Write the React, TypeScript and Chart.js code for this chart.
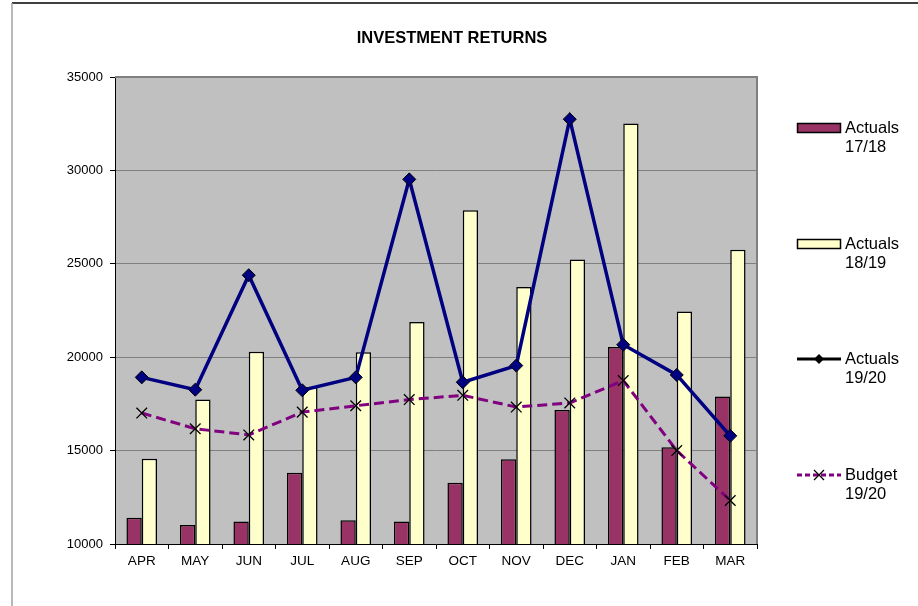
import React, { useEffect, useRef } from "react";
import { Chart, registerables } from "chart.js";

Chart.register(...registerables);

const months = ["APR", "MAY", "JUN", "JUL", "AUG", "SEP", "OCT", "NOV", "DEC", "JAN", "FEB", "MAR"];
const actuals1718 = [11400, 11020, 11200, 13820, 11270, 11200, 13280, 14540, 17170, 20540, 15180, 17890];
const actuals1819 = [14570, 17730, 20290, 18410, 20270, 21880, 27870, 23760, 25230, 32510, 22440, 25750];
const actuals1920 = [18920, 18260, 24390, 18230, 18920, 29520, 18660, 19550, 32740, 20670, 19050, 15790];
const budget1920 = [17010, 16170, 15840, 17060, 17400, 17730, 17960, 17330, 17550, 18750, 15000, 12330];
const yTicks = [10000, 15000, 20000, 25000, 30000, 35000];
const titleText = "INVESTMENT RETURNS";
const legendLabels = [
  ["Actuals", "17/18"],
  ["Actuals", "18/19"],
  ["Actuals", "19/20"],
  ["Budget", "19/20"],
];

const FONT = '"Liberation Sans", Arial, sans-serif';
const MAROON = "#993366";
const CREAM = "#FFFFCC";
const NAVY = "#000080";
const PURPLE = "#800080";

const decorPlugin = {
  id: "decor",
  beforeDraw(chart: any) {
    const { ctx, chartArea: a } = chart;
    ctx.save();
    ctx.fillStyle = "#ffffff";
    ctx.fillRect(0, 0, chart.width, chart.height);
    // frame
    ctx.strokeStyle = "#000000";
    ctx.lineWidth = 1.5;
    ctx.beginPath();
    ctx.moveTo(12, 3);
    ctx.lineTo(chart.width, 3);
    ctx.stroke();
    ctx.strokeStyle = "#a0a0a0";
    ctx.lineWidth = 1.5;
    ctx.beginPath();
    ctx.moveTo(12, 3);
    ctx.lineTo(12, chart.height);
    ctx.stroke();
    // plot background
    ctx.fillStyle = "#C0C0C0";
    ctx.fillRect(a.left, a.top, a.right - a.left, a.bottom - a.top);
    ctx.restore();
  },
  beforeDatasetsDraw(chart: any) {
    const { ctx, chartArea: a } = chart;
    ctx.save();
    ctx.strokeStyle = "#808080";
    ctx.lineWidth = 2;
    ctx.beginPath();
    ctx.moveTo(a.left, a.top);
    ctx.lineTo(a.right, a.top);
    ctx.lineTo(a.right, a.bottom);
    ctx.stroke();
    ctx.restore();
  },
  afterDraw(chart: any) {
    const { ctx } = chart;
    ctx.save();
    // title
    ctx.fillStyle = "#000";
    ctx.font = `bold 16.5px ${FONT}`;
    ctx.textAlign = "center";
    ctx.textBaseline = "middle";
    ctx.fillText(titleText, 452, 38);

    // legend
    const ys = [128, 244, 359, 475];
    const sx0 = 797;
    const sx1 = 841;
    const sc = (sx0 + sx1) / 2;
    ctx.strokeStyle = "#000";
    ctx.lineWidth = 1.5;
    // item 1
    ctx.fillStyle = MAROON;
    ctx.fillRect(sx0, ys[0] - 4.5, sx1 - sx0, 9);
    ctx.strokeRect(sx0 + 0.5, ys[0] - 4.5, sx1 - sx0 - 1, 9);
    // item 2
    ctx.fillStyle = CREAM;
    ctx.fillRect(sx0, ys[1] - 4.5, sx1 - sx0, 9);
    ctx.strokeRect(sx0 + 0.5, ys[1] - 4.5, sx1 - sx0 - 1, 9);
    // item 3
    ctx.lineWidth = 3;
    ctx.beginPath();
    ctx.moveTo(sx0, ys[2]);
    ctx.lineTo(sx1, ys[2]);
    ctx.stroke();
    ctx.fillStyle = "#000";
    ctx.beginPath();
    ctx.moveTo(sc, ys[2] - 5);
    ctx.lineTo(sc + 5, ys[2]);
    ctx.lineTo(sc, ys[2] + 5);
    ctx.lineTo(sc - 5, ys[2]);
    ctx.closePath();
    ctx.fill();
    // item 4
    ctx.strokeStyle = PURPLE;
    ctx.lineWidth = 3;
    ctx.setLineDash([5, 3]);
    ctx.beginPath();
    ctx.moveTo(sx0, ys[3]);
    ctx.lineTo(sx1, ys[3]);
    ctx.stroke();
    ctx.setLineDash([]);
    ctx.strokeStyle = "#000";
    ctx.lineWidth = 1.2;
    ctx.beginPath();
    ctx.moveTo(sc - 5, ys[3] - 5);
    ctx.lineTo(sc + 5, ys[3] + 5);
    ctx.moveTo(sc + 5, ys[3] - 5);
    ctx.lineTo(sc - 5, ys[3] + 5);
    ctx.stroke();

    ctx.fillStyle = "#000";
    ctx.font = `16.5px ${FONT}`;
    ctx.textAlign = "left";
    ctx.textBaseline = "middle";
    legendLabels.forEach((lines, i) => {
      ctx.fillText(lines[0], 845, ys[i]);
      ctx.fillText(lines[1], 845, ys[i] + 19);
    });
    ctx.restore();
  },
};

export default function App() {
  const ref = useRef<HTMLCanvasElement>(null);
  useEffect(() => {
    if (!ref.current) return;
    const chart = new Chart(ref.current, {
      type: "bar",
      data: {
        labels: months,
        datasets: [
          {
            type: "line",
            label: "Actuals 19/20",
            data: actuals1920,
            borderColor: NAVY,
            borderWidth: 3.5,
            backgroundColor: NAVY,
            pointStyle: "rectRot",
            pointRadius: 6.5,
            pointBorderColor: "#000",
            pointBackgroundColor: NAVY,
            pointBorderWidth: 1,
            tension: 0,
            order: 0,
          } as any,
          {
            type: "line",
            label: "Budget 19/20",
            data: budget1920,
            borderColor: PURPLE,
            borderWidth: 3,
            borderDash: [10, 5],
            pointStyle: "crossRot",
            pointRadius: 7.5,
            pointBorderColor: "#000",
            pointBorderWidth: 1.3,
            tension: 0,
            order: 1,
          } as any,
          {
            label: "Actuals 17/18",
            data: actuals1718,
            backgroundColor: MAROON,
            borderColor: "#000",
            borderWidth: 1.5,
            order: 2,
          },
          {
            label: "Actuals 18/19",
            data: actuals1819,
            backgroundColor: CREAM,
            borderColor: "#000",
            borderWidth: 1.5,
            order: 2,
          },
        ],
      },
      options: {
        animation: false,
        responsive: false,
        devicePixelRatio: 1,
        layout: { padding: { left: 0, top: 77, right: 161, bottom: 0 } },
        datasets: { bar: { categoryPercentage: 0.572, barPercentage: 1 } },
        plugins: {
          legend: { display: false },
          title: { display: false },
          tooltip: { enabled: false },
        },
        scales: {
          x: {
            offset: true,
            grid: {
              offset: true,
              drawOnChartArea: false,
              drawTicks: true,
              tickLength: 5,
              color: "#000",
            },
            border: { color: "#000", width: 1 },
            ticks: { color: "#000", font: { family: FONT, size: 13.5 }, padding: 4, maxRotation: 0 },
            afterFit(scale: any) {
              scale.height = 62;
            },
          },
          y: {
            min: 10000,
            max: 35000,
            afterBuildTicks(scale: any) {
              scale.ticks = yTicks.map((v) => ({ value: v }));
            },
            grid: { color: "#808080", tickColor: "#000", tickLength: 5, lineWidth: 1 },
            border: { color: "#000", width: 1 },
            ticks: {
              color: "#000",
              font: { family: FONT, size: 13 },
              padding: 7,
              callback: (v: any) => String(v),
            },
            afterFit(scale: any) {
              scale.width = 115;
            },
          },
        },
      },
      plugins: [decorPlugin],
    });
    return () => chart.destroy();
  }, []);
  return (
    <div style={{ position: "fixed", left: 0, top: 0, width: 918, height: 606, background: "#fff" }}>
      <canvas ref={ref} width={918} height={606} style={{ width: 918, height: 606, display: "block" }} />
    </div>
  );
}
